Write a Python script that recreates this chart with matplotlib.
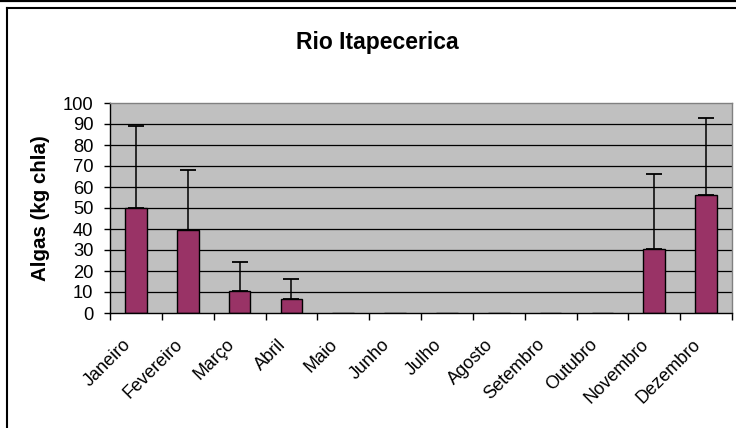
import matplotlib
matplotlib.use("Agg")
import matplotlib.pyplot as plt
from matplotlib.lines import Line2D
from matplotlib.transforms import ScaledTranslation
import numpy as np

plt.rcParams["font.family"] = ["Liberation Sans", "DejaVu Sans"]

months = ["Janeiro", "Fevereiro", "Março", "Abril", "Maio", "Junho",
          "Julho", "Agosto", "Setembro", "Outubro", "Novembro", "Dezembro"]
algas = [50, 39.5, 10.5, 6.7, 0, 0, 0, 0, 0, 0, 30.5, 56.2]
upper_err = [39, 28.5, 13.8, 9.5, 0, 0, 0, 0, 0, 0, 35.5, 36.8]
y_ticks = [0, 10, 20, 30, 40, 50, 60, 70, 80, 90, 100]

W, H = 736, 428
fig = plt.figure(figsize=(W / 100, H / 100), dpi=100)
fig.patch.set_facecolor("white")

# chart frame lines
fig.add_artist(Line2D([0, 1], [1 - 0.8 / H, 1 - 0.8 / H], transform=fig.transFigure,
                      color="black", lw=1.6))
fig.add_artist(Line2D([7 / W, 7 / W], [0, 1 - 8 / H], transform=fig.transFigure,
                      color="black", lw=1.5))
fig.add_artist(Line2D([7 / W, 1], [1 - 8 / H, 1 - 8 / H], transform=fig.transFigure,
                      color="black", lw=1.5))

left, right, top, bottom = 110, 732, 103, 313
ax = fig.add_axes([left / W, 1 - bottom / H, (right - left) / W, (bottom - top) / H])
ax.set_facecolor("#C0C0C0")

x = np.arange(len(months))
ax.bar(x, algas, width=0.42, color="#993366", edgecolor="black", linewidth=1.0, zorder=3)
err_x = [i for i, e in enumerate(upper_err) if e > 0]
ax.errorbar([x[i] for i in err_x], [algas[i] for i in err_x],
            yerr=[[0] * len(err_x), [upper_err[i] for i in err_x]],
            fmt="none", ecolor="black", elinewidth=1.1, capsize=5.8, capthick=1.3, zorder=4)

ax.set_xlim(-0.5, 11.5)
ax.set_ylim(0, 100)
ax.set_yticks(y_ticks)
ax.set_yticklabels([str(v) for v in y_ticks], fontsize=13.2)
for v in y_ticks[1:-1]:
    ax.axhline(v, color="black", lw=0.9, zorder=1)

ax.spines["left"].set_color("black")
ax.spines["bottom"].set_color("black")
ax.spines["top"].set_color("#808080")
ax.spines["right"].set_color("#808080")
for s in ax.spines.values():
    s.set_linewidth(1.0)
ax.spines["bottom"].set_zorder(5)

ax.tick_params(axis="y", direction="out", length=4, width=1, pad=8)
ax.set_xticks(x)
ax.set_xticklabels(months, fontsize=13, rotation=45, rotation_mode="anchor",
                   ha="right", va="center")
ax.tick_params(axis="x", which="major", length=0, pad=0)
ax.set_xticks(np.arange(-0.5, 12, 1), minor=True)
ax.tick_params(axis="x", which="minor", direction="out", length=5, width=1)
offset = ScaledTranslation(-0.08, -0.29, fig.dpi_scale_trans)
for lab in ax.get_xticklabels():
    lab.set_transform(lab.get_transform() + offset)

ax.set_ylabel("Algas (kg chla)", fontsize=14.8, fontweight="bold")
ax.yaxis.set_label_coords(-0.097, 0.5)

fig.text(377 / W, 1 - 43 / H, "Rio Itapecerica", fontsize=16.5, fontweight="bold",
         ha="center", va="center")

fig.savefig("out.png", dpi=100)
